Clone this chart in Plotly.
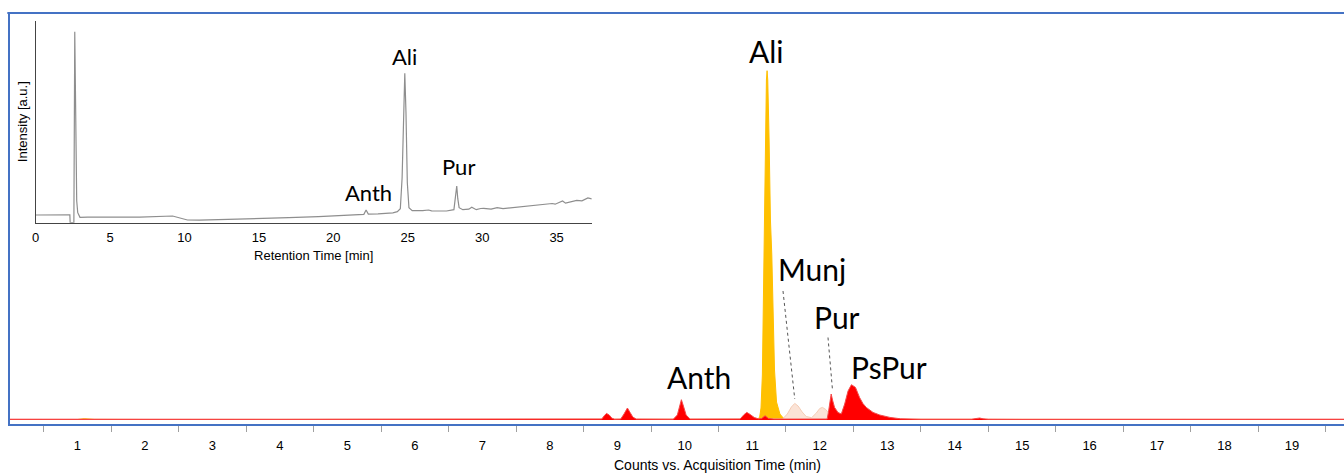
import plotly.graph_objects as go

# ---------------- Inset: HPLC chromatogram (a.u.) ----------------
inset_time = [0.0, 1.0, 2.0, 2.30, 2.32, 2.57, 2.63, 2.67, 2.76, 2.83, 2.98,
              3.5, 5.0, 7.0, 9.2, 9.6, 10.2, 11.0, 13.0, 15.0, 17.0, 19.0, 20.0,
              21.5, 22.05, 22.2, 22.35, 23.0, 24.0, 24.3, 24.5, 24.62, 24.72, 24.8,
              24.88, 24.97, 25.08, 25.3, 26.0, 26.4, 26.6, 27.6, 28.1, 28.2, 28.29,
              28.36, 28.45, 28.7, 29.1, 29.3, 29.6, 29.9, 30.1, 30.6, 31.0, 31.4,
              32.3, 33.0, 33.2, 34.0, 34.7, 34.9, 35.4, 35.6, 36.35, 36.7, 37.1, 37.36]
inset_intensity = [7.7, 7.7, 7.8, 7.8, 0.0, 0.0, 191, 150, 22, 10, 5.4,
                   5.5, 5.4, 5.5, 6.7, 5.0, 2.7, 2.6, 3.2, 4.2, 5.0, 6.0, 6.8,
                   7.6, 8.4, 12.7, 8.6, 8.8, 9.8, 11.0, 14.0, 45, 125, 149.4,
                   110, 40, 15, 12.0, 12.0, 12.7, 11.9, 11.7, 13, 26, 36.7,
                   24, 15, 13.0, 13.5, 15.4, 13.0, 14.2, 14.4, 13.6, 15.0, 14.0,
                   15.4, 16.0, 17.0, 17.5, 19.2, 18.5, 21.7, 19.5, 22.4, 21.8, 24.7, 23.8]
inset_ticks = [0, 5, 10, 15, 20, 25, 30, 35]
inset_labels = ["Anth", "Ali", "Pur"]
inset_label_time = [22.33, 24.78, 28.44]
inset_label_height = [30, 166, 56]

# ---------------- Main: extracted ion chromatograms (counts) ----------------
ali_time = [0.0, 1.0, 1.10, 1.25, 2.0, 5.0, 8.0, 11.0,
            11.08, 11.11, 11.13, 11.15, 11.17, 11.19, 11.21, 11.22, 11.23, 11.25,
            11.27, 11.29, 11.31, 11.33, 11.36, 11.41, 11.46, 11.52,
            12.0, 13.0, 13.3, 15.0, 19.8]
ali_counts = [0.5, 0.5, 1.3, 0.6, 0.5, 0.4, 0.5, 0.5,
              0.6, 3.0, 12.0, 45.0, 150.0, 270.0, 340.0, 349.3, 340.0, 280.0,
              200.0, 165.0, 100.0, 50.0, 18.0, 6.0, 2.0, 0.8,
              0.6, 0.6, 0.8, 0.5, 0.5]

munj_time = [0.0, 2.0, 5.0, 8.0, 11.0, 11.45, 11.52, 11.58, 11.63, 11.68, 11.74,
             11.80, 11.88, 11.95, 12.00, 12.04, 12.09, 12.15, 12.22, 12.30, 12.45,
             14.0, 17.0, 19.8]
munj_counts = [0.5, 0.6, 0.5, 0.6, 0.5, 1.0, 6.0, 13.0, 16.6, 14.0, 8.0,
               3.5, 2.3, 7.0, 11.5, 12.6, 10.5, 5.5, 2.5, 1.2, 0.6,
               0.5, 0.6, 0.5]

red_time = [0.00, 0.50, 1.00, 1.15, 1.30, 2.00, 3.00, 4.00, 5.00, 6.00, 7.00, 8.00, 8.70,
            8.77, 8.81, 8.84, 8.88, 8.92, 8.96,
            9.05, 9.10, 9.15, 9.19, 9.23, 9.28,
            9.83, 9.89, 9.93, 9.95, 9.98, 10.02, 10.08,
            10.50,
            10.82, 10.88, 10.92, 10.97, 11.03, 11.09,
            11.14, 11.19, 11.24, 11.32,
            11.60, 11.90, 12.08,
            12.11, 12.13, 12.15, 12.17, 12.19, 12.22, 12.27, 12.32,
            12.37, 12.42, 12.47, 12.53, 12.59, 12.64, 12.69, 12.79, 12.89, 13.04, 13.20, 13.50,
            14.25, 14.33, 14.37, 14.42, 14.50, 15.00, 16.00, 17.00, 18.00, 19.00, 19.80]
red_counts = [0.8, 0.7, 0.9, 1.2, 0.8, 0.7, 0.8, 0.7, 0.8, 0.7, 0.8, 0.7, 0.8,
              1.0, 4.5, 6.6, 5.0, 1.8, 0.8,
              0.9, 6.0, 12.0, 7.5, 3.0, 0.9,
              0.8, 5.0, 15.0, 20.3, 14.0, 5.0, 0.9,
              0.8,
              1.0, 5.5, 7.6, 5.5, 2.5, 1.2,
              1.5, 4.3, 1.5, 0.9,
              0.8, 0.8, 1.0,
              1.0, 8.0, 18.0, 26.0, 20.0, 12.6, 7.6, 6.0,
              16.0, 29.0, 35.3, 32.6, 22.6, 16.5, 12.6, 7.6, 5.0, 2.6, 1.2, 0.8,
              0.8, 1.5, 2.0, 1.2, 0.8, 0.7, 0.9, 0.8, 0.7, 0.8, 0.8]

main_ticks = list(range(1, 20))
main_labels = ["Ali", "Anth", "Munj", "Pur", "PsPur"]
main_label_time = [11.215, 10.21, 11.88, 12.26, 13.03]
main_label_height = [369.0, 43.0, 151.0, 103.0, 53.0]

# leader lines (label -> peak)
leader_from_time = [11.456, 12.123]
leader_from_height = [129.0, 82.5]
leader_to_time = [11.63, 12.188]
leader_to_height = [21.0, 31.0]

BLUE = "#4472C4"

fig = go.Figure()

fig.add_trace(go.Scatter(x=ali_time, y=ali_counts, mode="lines", fill="tozeroy",
                         line=dict(color="#FFC000", width=1), fillcolor="#FFC000",
                         hoverinfo="skip", xaxis="x", yaxis="y"))
fig.add_trace(go.Scatter(x=munj_time, y=munj_counts, mode="lines", fill="tozeroy",
                         line=dict(color="#F5CDB6", width=1), fillcolor="#FBE3D6",
                         hoverinfo="skip", xaxis="x", yaxis="y"))
fig.add_trace(go.Scatter(x=red_time, y=red_counts, mode="lines", fill="tozeroy",
                         line=dict(color="#F44A4A", width=1), fillcolor="#FF0000",
                         hoverinfo="skip", xaxis="x", yaxis="y"))

fig.add_trace(go.Scatter(x=inset_time, y=inset_intensity, mode="lines",
                         line=dict(color="#8E8E8E", width=1.2),
                         hoverinfo="skip", xaxis="x2", yaxis="y2"))

annotations = []
for lab, t, h in zip(main_labels, main_label_time, main_label_height):
    annotations.append(dict(x=t, y=h, xref="x", yref="y", text=lab, showarrow=False,
                            xanchor="center", yanchor="middle",
                            font=dict(family="Lato", size=30, color="black")))
for lab, t, h in zip(inset_labels, inset_label_time, inset_label_height):
    annotations.append(dict(x=t, y=h, xref="x2", yref="y2", text=lab, showarrow=False,
                            xanchor="center", yanchor="middle",
                            font=dict(family="Lato", size=22, color="black")))
annotations.append(dict(x=0.530, y=-0.10, xref="paper", yref="paper",
                        text="Counts vs. Acquisition Time (min)", showarrow=False,
                        xanchor="center", yanchor="middle",
                        font=dict(family="Liberation Sans", size=14, color="black")))

shapes = []
for x0, y0, x1, y1 in zip(leader_from_time, leader_from_height, leader_to_time, leader_to_height):
    shapes.append(dict(type="line", xref="x", yref="y", x0=x0, y0=y0, x1=x1, y1=y1,
                       line=dict(color="#555555", width=1, dash="dot")))
# top frame line
shapes.append(dict(type="line", xref="paper", yref="paper", x0=-0.002, x1=1, y0=1.0, y1=1.0,
                   line=dict(color=BLUE, width=2)))

fig.update_layout(
    width=1344, height=473,
    margin=dict(l=10, r=0, t=13, b=49),
    paper_bgcolor="white", plot_bgcolor="white",
    showlegend=False,
    annotations=annotations,
    shapes=shapes,
    xaxis=dict(range=[0, 19.77], showgrid=False, zeroline=False,
               showline=True, linecolor=BLUE, linewidth=2,
               tickmode="array", tickvals=main_ticks, ticktext=[str(v) for v in main_ticks],
               ticks="outside", ticklen=8, tickcolor="rgba(0,0,0,0)",
               tickfont=dict(family="Liberation Sans", size=13, color="black"),
               minor=dict(tickmode="linear", tick0=0.5, dtick=1, ticks="outside",
                          ticklen=6, tickcolor="#A0A0A0", tickwidth=1, showgrid=False),
               fixedrange=True),
    yaxis=dict(range=[-4, 407], showgrid=False, zeroline=False,
               showline=True, linecolor=BLUE, linewidth=2,
               showticklabels=False, ticks="", fixedrange=True),
    xaxis2=dict(domain=[0.0192, 0.4361], anchor="y2", range=[0, 37.36],
                showgrid=False, zeroline=False, showline=True, linecolor="#444444", linewidth=1,
                tickmode="array", tickvals=inset_ticks,
                ticks="outside", ticklen=3, tickcolor="rgba(0,0,0,0)",
                tickfont=dict(family="Liberation Sans", size=13, color="black"),
                title=dict(text="Retention Time [min]", standoff=6,
                           font=dict(family="Liberation Sans", size=13, color="black"))),
    yaxis2=dict(domain=[0.4898, 0.9813], anchor="x2", range=[0, 202],
                showgrid=False, zeroline=False, showline=True, linecolor="#444444", linewidth=1,
                showticklabels=False, ticks="",
                title=dict(text="Intensity [a.u.]", standoff=4,
                           font=dict(family="Liberation Sans", size=13, color="black"))),
)

fig.write_html("out.html")
